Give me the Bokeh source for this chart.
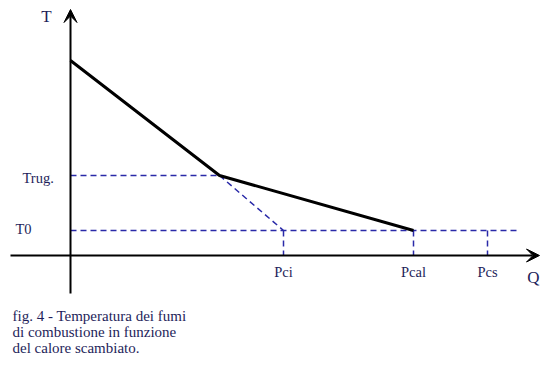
from bokeh.plotting import figure
from bokeh.models import Arrow, VeeHead, Range1d
from bokeh.core.properties import value
from bokeh.embed import file_html
from bokeh.resources import INLINE

# Data (arbitrary units)
curve_q = [0.0, 29.8, 68.6]      # heat exchanged
curve_t = [39.0, 16.0, 5.0]      # flue-gas temperature
T0 = 5.0
TRUG = 16.0
Q_KINK = 29.8
PCI = 42.6
PCAL = 68.6
PCS = 83.4
Q_END = 89.6
x_ticks = [PCI, PCAL, PCS]
x_tick_labels = ["Pci", "Pcal", "Pcs"]
y_ticks = [TRUG, T0]
y_tick_labels = ["Trug.", "T0"]
caption = ["fig. 4 - Temperatura dei fumi",
           "di combustione in funzione",
           "del calore scambiato."]

W, H = 540, 362
p = figure(width=W, height=H, output_backend="svg", toolbar_location=None,
           x_range=Range1d(-14.0, 94.0), y_range=Range1d(-21.4, 51.0),
           min_border=0)
p.axis.visible = False
p.grid.visible = False
p.outline_line_color = None
p.background_fill_color = "white"
p.border_fill_color = "white"

NAVY = "#1e1e5a"
BLUE = "#2a2aa8"
FONT = value("Liberation Serif")

# dashed helper lines
dash = "6 4"
p.line([0, Q_KINK], [TRUG, TRUG], line_color=BLUE, line_width=1.5, line_dash=dash)
p.line([Q_KINK, PCI], [TRUG, T0], line_color=BLUE, line_width=1.5, line_dash=dash)
p.line([0, Q_END], [T0, T0], line_color=BLUE, line_width=1.5, line_dash=dash)
for q in x_ticks:
    p.line([q, q], [T0, 0], line_color=BLUE, line_width=1.5, line_dash=dash)

# axes with arrows
p.add_layout(Arrow(end=VeeHead(size=13, fill_color="black", line_color="black"),
                   x_start=0, y_start=-7.6, x_end=0, y_end=49.2,
                   line_color="black", line_width=2))
p.add_layout(Arrow(end=VeeHead(size=13, fill_color="black", line_color="black"),
                   x_start=-12.0, y_start=0, x_end=93.8, y_end=0,
                   line_color="black", line_width=2))

# main curve
p.line(curve_q, curve_t, line_color="black", line_width=3)

# tick labels
p.text(x=x_ticks, y=[-1.6] * 3, text=x_tick_labels, text_font=FONT,
       text_font_size="14.5px", text_color=NAVY, text_align="center",
       text_baseline="top")
p.text(x=[-9.6, -11.0], y=[TRUG - 0.5, T0 + 0.3], text=y_tick_labels, text_font=FONT,
       text_font_size="14.5px", text_color=NAVY, text_align="left",
       text_baseline="middle")
p.text(x=[-4.8], y=[47.8], text=["T"], text_font=FONT, text_font_size="17px",
       text_color=NAVY, text_align="center", text_baseline="middle")
p.text(x=[92.6], y=[-4.4], text=["Q"], text_font=FONT, text_font_size="17px",
       text_color=NAVY, text_align="center", text_baseline="middle")

# caption
p.text(x=[-11.6] * 3, y=[-12.0, -15.2, -18.4], text=caption, text_font=FONT,
       text_font_size="15px", text_color=NAVY, text_align="left",
       text_baseline="middle")

open("out.html", "w").write(file_html(p, INLINE))
